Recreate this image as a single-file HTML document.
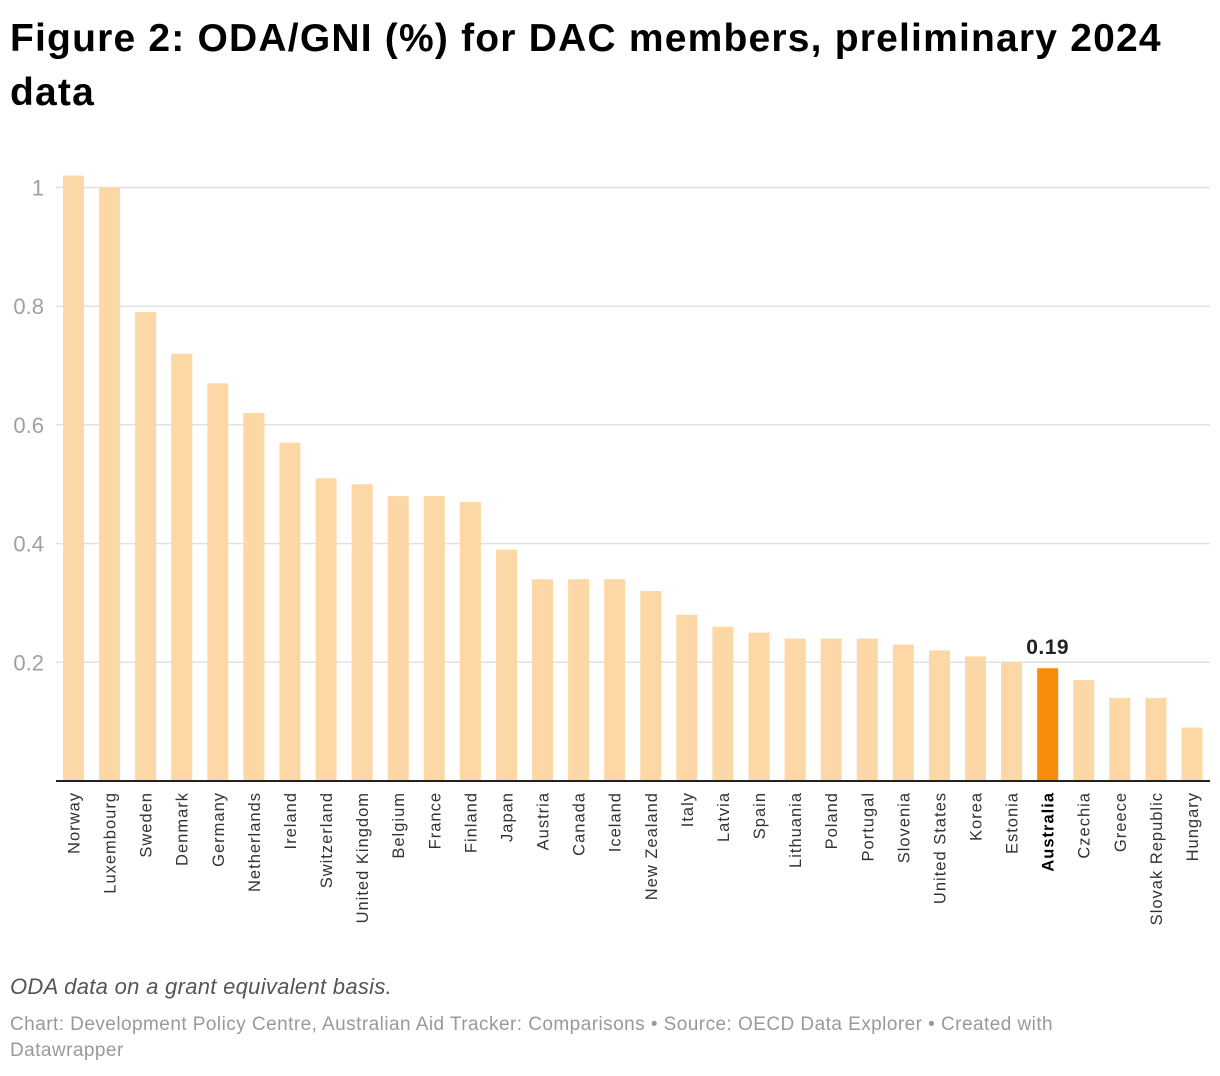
<!DOCTYPE html>
<html><head><meta charset="utf-8">
<style>
body{margin:0;background:#fff;width:1220px;height:1076px;overflow:hidden;font-family:"Liberation Sans",sans-serif;}
#title{position:absolute;left:10px;top:12px;width:1200px;font-size:39px;font-weight:bold;line-height:54px;color:#000;margin:0;letter-spacing:1.2px;}
#note{position:absolute;left:10px;top:974px;font-size:22px;font-style:italic;color:#555;letter-spacing:0.3px;}
#source{position:absolute;left:10px;top:1012px;width:1140px;font-size:19px;color:#999;line-height:26px;letter-spacing:0.45px;}
svg{position:absolute;left:0;top:0;}
</style></head><body>
<h1 id="title">Figure 2: ODA/GNI (%) for DAC members, preliminary 2024 data</h1>
<svg id="chart" width="1220" height="960"></svg>
<div id="note">ODA data on a grant equivalent basis.</div>
<div id="source">Chart: Development Policy Centre, Australian Aid Tracker: Comparisons • Source: OECD Data Explorer • Created with Datawrapper</div>
<script>
const categories=["Norway","Luxembourg","Sweden","Denmark","Germany","Netherlands","Ireland","Switzerland","United Kingdom","Belgium","France","Finland","Japan","Austria","Canada","Iceland","New Zealand","Italy","Latvia","Spain","Lithuania","Poland","Portugal","Slovenia","United States","Korea","Estonia","Australia","Czechia","Greece","Slovak Republic","Hungary"];
const values=[1.02,1.00,0.79,0.72,0.67,0.62,0.57,0.51,0.50,0.48,0.48,0.47,0.39,0.34,0.34,0.34,0.32,0.28,0.26,0.25,0.24,0.24,0.24,0.23,0.22,0.21,0.20,0.19,0.17,0.14,0.14,0.09];
const yTicks=[0.2,0.4,0.6,0.8,1];
const yTickLabels=["0.2","0.4","0.6","0.8","1"];
const highlight="Australia";
const NS="http://www.w3.org/2000/svg";
const svg=document.getElementById('chart');
const y0=781,yPer=593.5;
const y=v=>y0-v*yPer;
const x=i=>73.5+i*36.08;
function mk(t,a){const e=document.createElementNS(NS,t);for(const k in a)e.setAttribute(k,a[k]);svg.appendChild(e);return e;}
yTicks.forEach((t,i)=>{
  const g=mk('line',{x1:56,x2:1210,y1:y(t),y2:y(t),stroke:'#e0e0e0','stroke-width':1.5});
  
  
  const l=mk('text',{x:44,y:y(t)+8,'text-anchor':'end','font-size':22,fill:'#a0a0a0','font-family':'Liberation Sans, sans-serif'});
  l.textContent=yTickLabels[i];
  
  
});
categories.forEach((c,i)=>{
  const hl=c===highlight;
  const b=mk('rect',{x:x(i)-10.5,y:y(values[i]),width:21,height:values[i]*yPer,fill:hl?'#f68b0c':'#fdd7a5'});
  
  
  const t=mk('text',{x:0,y:0,transform:`translate(${x(i)+6},792) rotate(-90)`,'text-anchor':'end','font-size':16.5,'letter-spacing':1,fill:hl?'#000':'#333','font-weight':hl?'bold':'normal','font-family':'Liberation Sans, sans-serif'});
  t.textContent=c;
  
  
  if(hl){
    const v=mk('text',{x:x(i),y:y(values[i])-14,'text-anchor':'middle','font-size':21,'font-weight':'bold',fill:'#222','letter-spacing':0.5,'font-family':'Liberation Sans, sans-serif'});
    v.textContent=values[i].toFixed(2);
    
    
  }
});
const base=mk('line',{x1:56,x2:1210,y1:y0,y2:y0,stroke:'#222','stroke-width':2});


</script>
</body></html>
